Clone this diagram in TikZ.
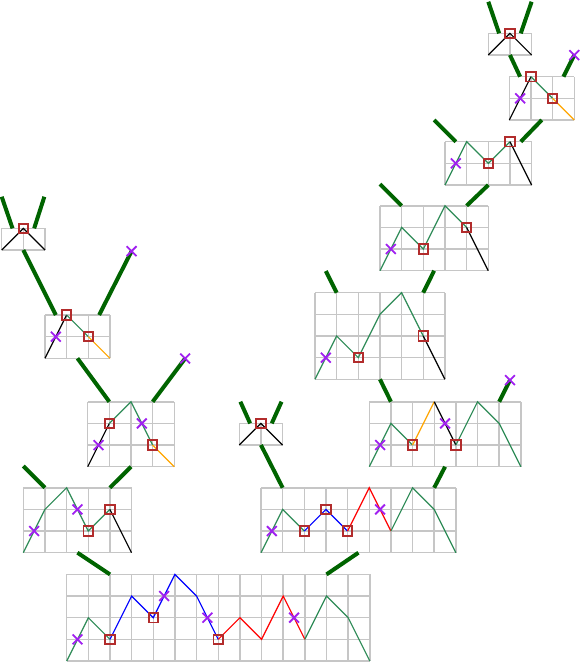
\documentclass[tikz,border=0pt]{standalone}
\usetikzlibrary{shapes.misc}
\definecolor{tg}{RGB}{0,100,0}
\definecolor{pg}{RGB}{46,139,87}
\definecolor{po}{RGB}{255,165,0}
\definecolor{sqc}{RGB}{178,44,44}
\definecolor{xc}{RGB}{160,32,240}
\definecolor{gc}{RGB}{198,198,198}
\tikzset{
 gridline/.style={draw=gc, line width=1.5pt},
 pth/.style={line width=1.2pt},
 sqbox/.style={draw=sqc, line width=1.9pt, minimum size=9.5pt, inner sep=0pt, shape=rectangle},
 xmk/.style={draw=xc, cross out, line width=1.8pt, minimum size=8pt, inner sep=0pt},
 treeline/.style={draw=tg, line width=4pt},
 cellunit/.style={x=21.65pt, y=21.65pt},
}
\newcommand{\gridbox}[2]{%
  \foreach \i in {0,...,#1} \draw[gridline] (\i,0) -- (\i,#2);
  \foreach \j in {0,...,#2} \draw[gridline] (0,\j) -- (#1,\j);}
\begin{document}
\begin{tikzpicture}[x=1pt, y=-1pt]
\useasboundingbox (0,0) rectangle (580,662);
\clip (0,0) rectangle (580,662);

% P1
\begin{scope}[shift={(488.3,55)}, cellunit]
 \gridbox{2}{1}
 \draw[pth] (0,0)--(1,1)--(2,0);
 \node[sqbox] (s1a) at (1,1) {};
 \coordinate (p1tl) at (0.5,1); \coordinate (p1tr) at (1.5,1);
 \coordinate (p1fl) at (0,2.46); \coordinate (p1fr) at (2,2.46);
 \coordinate (p1b) at (1,0);
\end{scope}

% P2
\begin{scope}[shift={(509.3,120)}, cellunit]
 \gridbox{3}{2}
 \draw[pth] (0,0)--(1,2);
 \draw[pth,pg] (1,2)--(2,1);
 \draw[pth,po] (2,1)--(3,0);
 \node[sqbox] (s2a) at (1,2) {};
 \node[sqbox] (s2b) at (2,1) {};
 \node[xmk] (x2a) at (0.5,1) {};
 \coordinate (p2tl) at (0.5,2); \coordinate (p2tr) at (2.5,2);
 \coordinate (p2x) at (3,3); \coordinate (p2b) at (1.5,0);
\end{scope}

% P3
\begin{scope}[shift={(445,185)}, cellunit]
 \gridbox{4}{2}
 \draw[pth,pg] (0,0)--(1,2)--(2,1)--(3,2);
 \draw[pth] (3,2)--(4,0);
 \node[sqbox] (s3a) at (2,1) {};
 \node[sqbox] (s3b) at (3,2) {};
 \node[xmk] (x3a) at (0.5,1) {};
 \coordinate (p3tl) at (0.5,2); \coordinate (p3f) at (-0.5,3);
 \coordinate (p3tr) at (3.5,2); \coordinate (p3b) at (2,0);
\end{scope}

% P4
\begin{scope}[shift={(380,270.7)}, cellunit]
 \gridbox{5}{3}
 \draw[pth,pg] (0,0)--(1,2)--(2,1)--(3,3)--(4,2);
 \draw[pth] (4,2)--(5,0);
 \node[sqbox] (s4a) at (2,1) {};
 \node[sqbox] (s4b) at (4,2) {};
 \node[xmk] (x4a) at (0.5,1) {};
 \coordinate (p4tl) at (1,3); \coordinate (p4f) at (0,4);
 \coordinate (p4tr) at (4,3); \coordinate (p4b) at (2.5,0);
\end{scope}

% P5
\begin{scope}[shift={(315,379.3)}, cellunit]
 \gridbox{6}{4}
 \draw[pth,pg] (0,0)--(1,2)--(2,1)--(3,3)--(4,4)--(5,2);
 \draw[pth] (5,2)--(6,0);
 \node[sqbox] (s5a) at (2,1) {};
 \node[sqbox] (s5b) at (5,2) {};
 \node[xmk] (x5a) at (0.5,1) {};
 \coordinate (p5tl) at (1,4); \coordinate (p5f) at (0.5,5);
 \coordinate (p5tr) at (5,4); \coordinate (p5b) at (3,0);
\end{scope}

% P6
\begin{scope}[shift={(369.3,466.7)}, cellunit]
 \gridbox{7}{3}
 \draw[pth,pg] (0,0)--(1,2)--(2,1);
 \draw[pth,po] (2,1)--(3,3);
 \draw[pth] (3,3)--(4,1);
 \draw[pth,pg] (4,1)--(5,3)--(6,2)--(7,0);
 \node[sqbox] (s6a) at (2,1) {};
 \node[sqbox] (s6b) at (4,1) {};
 \node[xmk] (x6a) at (0.5,1) {};
 \node[xmk] (x6b) at (3.5,2) {};
 \coordinate (p6tl) at (1,3); \coordinate (p6tr) at (6,3);
 \coordinate (p6x) at (6.5,4); \coordinate (p6b) at (3.5,0);
\end{scope}

% P7
\begin{scope}[shift={(261,552.7)}, cellunit]
 \gridbox{9}{3}
 \draw[pth,pg] (0,0)--(1,2)--(2,1);
 \draw[pth,blue] (2,1)--(3,2)--(4,1);
 \draw[pth,red] (4,1)--(5,3)--(6,1);
 \draw[pth,pg] (6,1)--(7,3)--(8,2)--(9,0);
 \node[sqbox] (s7a) at (2,1) {};
 \node[sqbox] (s7b) at (3,2) {};
 \node[sqbox] (s7c) at (4,1) {};
 \node[xmk] (x7a) at (0.5,1) {};
 \node[xmk] (x7b) at (5.5,2) {};
 \coordinate (p7tl) at (1,3); \coordinate (p7tr) at (8,3);
 \coordinate (p7b) at (4.5,0);
\end{scope}

% P8
\begin{scope}[shift={(239.3,445)}, cellunit]
 \gridbox{2}{1}
 \draw[pth] (0,0)--(1,1)--(2,0);
 \node[sqbox] (s8a) at (1,1) {};
 \coordinate (p8tl) at (0.5,1); \coordinate (p8tr) at (1.5,1);
 \coordinate (p8fl) at (0.05,2); \coordinate (p8fr) at (1.95,2);
 \coordinate (p8b) at (1,0);
\end{scope}

% P9
\begin{scope}[shift={(1.7,250)}, cellunit]
 \gridbox{2}{1}
 \draw[pth] (0,0)--(1,1)--(2,0);
 \node[sqbox] (s9a) at (1,1) {};
 \coordinate (p9tl) at (0.5,1); \coordinate (p9tr) at (1.5,1);
 \coordinate (p9fl) at (0,2.46); \coordinate (p9fr) at (1.97,2.46);
 \coordinate (p9b) at (1,0);
\end{scope}

% P10
\begin{scope}[shift={(45,358.3)}, cellunit]
 \gridbox{3}{2}
 \draw[pth] (0,0)--(1,2);
 \draw[pth,pg] (1,2)--(2,1);
 \draw[pth,po] (2,1)--(3,0);
 \node[sqbox] (s10a) at (1,2) {};
 \node[sqbox] (s10b) at (2,1) {};
 \node[xmk] (x10a) at (0.5,1) {};
 \coordinate (p10tl) at (0.5,2); \coordinate (p10tr) at (2.5,2);
 \coordinate (p10x) at (4,4.95); \coordinate (p10b) at (1.5,0);
\end{scope}

% P11
\begin{scope}[shift={(87.7,466.7)}, cellunit]
 \gridbox{4}{3}
 \draw[pth] (0,0)--(1,2);
 \draw[pth,pg] (1,2)--(2,3)--(3,1);
 \draw[pth,po] (3,1)--(4,0);
 \node[sqbox] (s11a) at (1,2) {};
 \node[sqbox] (s11b) at (3,1) {};
 \node[xmk] (x11a) at (0.5,1) {};
 \node[xmk] (x11b) at (2.5,2) {};
 \coordinate (p11tl) at (1,3); \coordinate (p11tr) at (3,3);
 \coordinate (p11x) at (4.5,5); \coordinate (p11b) at (2,0);
\end{scope}

% P12
\begin{scope}[shift={(23.3,552.7)}, cellunit]
 \gridbox{5}{3}
 \draw[pth,pg] (0,0)--(1,2)--(2,3)--(3,1)--(4,2);
 \draw[pth] (4,2)--(5,0);
 \node[sqbox] (s12a) at (3,1) {};
 \node[sqbox] (s12b) at (4,2) {};
 \node[xmk] (x12a) at (0.5,1) {};
 \node[xmk] (x12b) at (2.5,2) {};
 \coordinate (p12tl) at (1,3); \coordinate (p12f) at (0,4);
 \coordinate (p12tr) at (4,3); \coordinate (p12b) at (2.5,0);
\end{scope}

% P13
\begin{scope}[shift={(66.7,661)}, cellunit]
 \gridbox{14}{4}
 \draw[pth,pg] (0,0)--(1,2)--(2,1);
 \draw[pth,blue] (2,1)--(3,3)--(4,2)--(5,4)--(6,3)--(7,1);
 \draw[pth,red] (7,1)--(8,2)--(9,1)--(10,3)--(11,1);
 \draw[pth,pg] (11,1)--(12,3)--(13,2)--(14,0);
 \node[sqbox] (s13a) at (2,1) {};
 \node[sqbox] (s13b) at (4,2) {};
 \node[sqbox] (s13c) at (7,1) {};
 \node[xmk] (x13a) at (0.5,1) {};
 \node[xmk] (x13b) at (4.5,3) {};
 \node[xmk] (x13c) at (6.5,2) {};
 \node[xmk] (x13d) at (10.5,2) {};
 \coordinate (p13tl) at (2,4); \coordinate (p13tr) at (12,4);
\end{scope}

% tree connectors
\draw[treeline] (p1tl) -- (p1fl);
\draw[treeline] (p1tr) -- (p1fr);
\draw[treeline] (p1b) -- (p2tl);
\draw[treeline] (p2tr) -- (p2x);
\draw[treeline] (p2b) -- (p3tr);
\draw[treeline] (p3tl) -- (p3f);
\draw[treeline] (p3b) -- (p4tr);
\draw[treeline] (p4tl) -- (p4f);
\draw[treeline] (p4b) -- (p5tr);
\draw[treeline] (p5tl) -- (p5f);
\draw[treeline] (p5b) -- (p6tl);
\draw[treeline] (p6tr) -- (p6x);
\draw[treeline] (p6b) -- (p7tr);
\draw[treeline] (p8tl) -- (p8fl);
\draw[treeline] (p8tr) -- (p8fr);
\draw[treeline] (p8b) -- (p7tl);
\draw[treeline] (p7b) -- (p13tr);
\draw[treeline] (p9tl) -- (p9fl);
\draw[treeline] (p9tr) -- (p9fr);
\draw[treeline] (p9b) -- (p10tl);
\draw[treeline] (p10tr) -- (p10x);
\draw[treeline] (p10b) -- (p11tl);
\draw[treeline] (p11tr) -- (p11x);
\draw[treeline] (p11b) -- (p12tr);
\draw[treeline] (p12tl) -- (p12f);
\draw[treeline] (p12b) -- (p13tl);

% crosses at free ends
\node[xmk] (e2) at (p2x) {};
\node[xmk] (e6) at (p6x) {};
\node[xmk] (e10) at (p10x) {};
\node[xmk] (e11) at (p11x) {};
\end{tikzpicture}
\end{document}
